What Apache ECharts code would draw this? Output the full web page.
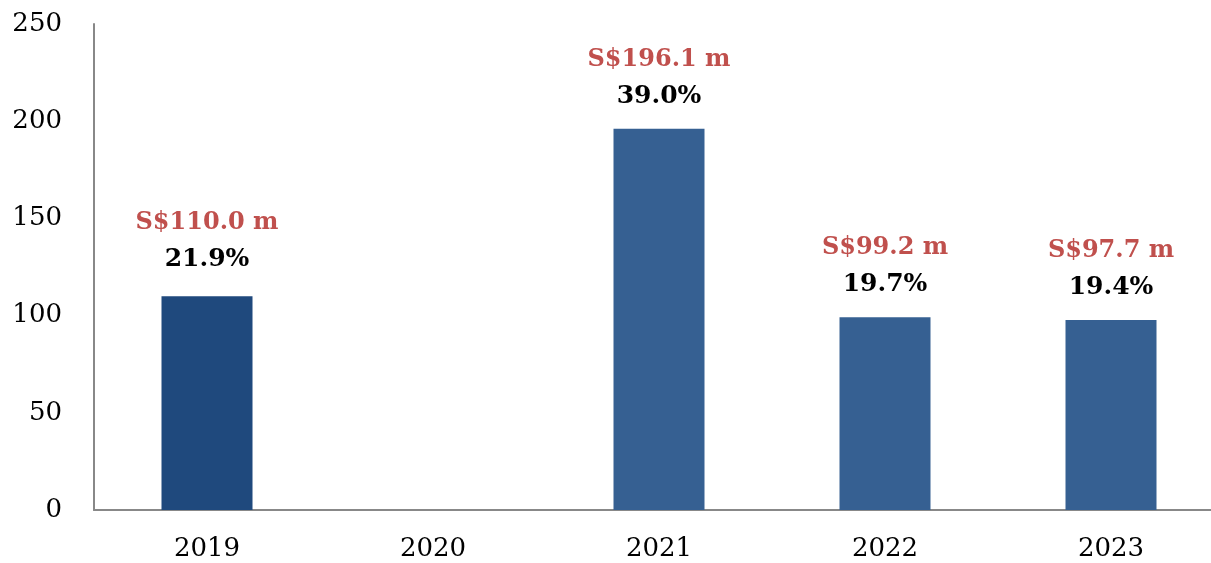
<!DOCTYPE html>
<html>
<head>
<meta charset="utf-8">
<script src="https://cdn.jsdelivr.net/npm/echarts@6/dist/echarts.min.js"></script>
<style>
  html, body { margin: 0; padding: 0; background: #fff; }
  #main { width: 1211px; height: 563px; }
</style>
</head>
<body>
<div id="main"></div>
<script>
// data
var years = ['2019', '2020', '2021', '2022', '2023'];
var values = [110.0, null, 196.1, 99.2, 97.7];
var amountLabels = ['S$110.0 m', '', 'S$196.1 m', 'S$99.2 m', 'S$97.7 m'];
var pctLabels = ['21.9%', '', '39.0%', '19.7%', '19.4%'];
var barColors = ['#1F497D', '#366092', '#366092', '#366092', '#366092'];

var chart = echarts.init(document.getElementById('main'));

var FONT = 'DejaVu Serif';

var option = {
  animation: false,
  grid: { left: 94, top: 24, bottom: 53, width: 1130, outerBoundsMode: 'none', containLabel: false },
  xAxis: {
    type: 'category',
    data: years,
    axisLine: { lineStyle: { color: '#888', width: 2 } },
    axisTick: { show: false },
    axisLabel: { color: '#000', fontFamily: FONT, fontSize: 26, margin: 26 }
  },
  yAxis: {
    type: 'value',
    min: 0,
    max: 250,
    interval: 50,
    axisLine: { show: true, lineStyle: { color: '#888', width: 2 } },
    axisTick: { show: false },
    splitLine: { show: false },
    axisLabel: { color: '#000', fontFamily: FONT, fontSize: 26, margin: 32 }
  },
  series: [{
    type: 'bar',
    barWidth: 91,
    data: values.map(function (v, i) {
      // first label sits a little higher in the original
      return { value: v, itemStyle: { color: barColors[i] }, label: { distance: i === 0 ? 18 : 14 } };
    }),
    label: {
      show: true,
      position: 'top',
      distance: 14,
      formatter: function (p) {
        return '{a|' + amountLabels[p.dataIndex] + '}\n{b|' + pctLabels[p.dataIndex] + '}';
      },
      rich: {
        a: { color: '#C0504D', fontFamily: FONT, fontWeight: 'bold', fontSize: 24, lineHeight: 37 },
        b: { color: '#000', fontFamily: FONT, fontWeight: 'bold', fontSize: 25, lineHeight: 37 }
      }
    }
  }]
};

option && chart.setOption(option);
</script>
</body>
</html>
